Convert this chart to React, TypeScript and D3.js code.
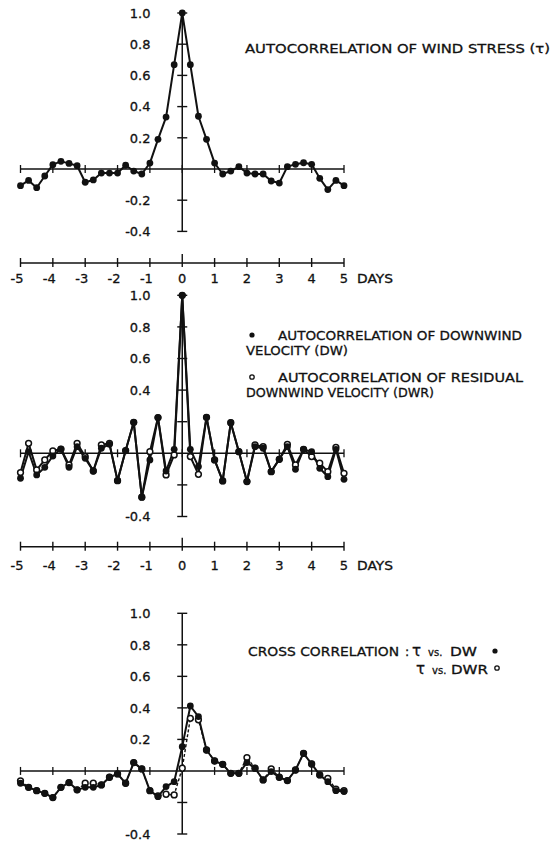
import React from "react";
import * as d3 from "d3";

const LAGS = [
  -5, -4.75, -4.5, -4.25, -4, -3.75, -3.5, -3.25, -3, -2.75, -2.5, -2.25, -2, -1.75, -1.5, -1.25, -1, -0.75, -0.5, -0.25,
  0, 0.25, 0.5, 0.75, 1, 1.25, 1.5, 1.75, 2, 2.25, 2.5, 2.75, 3, 3.25, 3.5, 3.75, 4, 4.25, 4.5, 4.75, 5,
];

const WIND_STRESS = [
  -0.107, -0.073, -0.12, -0.045, 0.028, 0.049, 0.036, 0.021, -0.085, -0.07, -0.026, -0.026, -0.026, 0.024, -0.013, -0.032,
  0.038, 0.19, 0.333, 0.669, 1.0, 0.669, 0.338, 0.19, 0.038, -0.032, -0.013, 0.015, -0.026, -0.032, -0.032, -0.077, -0.09,
  0.015, 0.03, 0.04, 0.03, -0.06, -0.132, -0.073, -0.107,
];

const DW_AUTO = [
  -0.158, 0.01, -0.137, -0.089, -0.017, 0.027, -0.089, 0.042, -0.032, -0.112, 0.032, 0.057, -0.173, 0.017, 0.196, -0.278,
  -0.042, 0.226, -0.112, 0.025, 1.0, 0.025, -0.084, 0.228, -0.042, -0.175, 0.194, 0.01, -0.179, 0.042, 0.032, -0.116,
  -0.038, 0.042, -0.101, 0.025, 0.01, -0.095, -0.148, 0.025, -0.165,
];

const DWR_AUTO = [
  -0.122, 0.063, -0.105, -0.042, 0.015, 0.027, -0.074, 0.063, -0.021, -0.112, 0.053, 0.063, -0.173, 0.017, 0.196, -0.278,
  0.01, 0.226, -0.137, -0.01, 1.0, -0.021, -0.133, 0.228, -0.042, -0.175, 0.194, 0.01, -0.179, 0.053, 0.042, -0.116,
  -0.038, 0.057, -0.074, 0.025, -0.021, -0.063, -0.116, 0.038, -0.127,
];

const CROSS_DW = [
  -0.078, -0.104, -0.125, -0.142, -0.169, -0.104, -0.074, -0.12, -0.104, -0.104, -0.089, -0.04, -0.019, -0.078, 0.053,
  0.013, -0.125, -0.163, -0.099, -0.068, 0.154, 0.412, 0.345, 0.133, 0.063, 0.042, -0.015, -0.015, 0.053, 0.017, -0.057,
  -0.004, -0.04, -0.061, 0.006, 0.112, 0.044, -0.025, -0.068, -0.125, -0.131,
];

const CROSS_DWR = [
  -0.063, -0.104, -0.125, -0.142, -0.169, -0.104, -0.074, -0.12, -0.078, -0.078, -0.089, -0.04, -0.019, -0.078, 0.053,
  0.013, -0.125, -0.158, -0.148, -0.152, 0.017, 0.334, 0.324, 0.133, 0.063, 0.042, -0.015, -0.015, 0.085, 0.017, -0.057,
  0.013, -0.04, -0.061, 0.006, 0.112, 0.044, -0.025, -0.047, -0.116, -0.125,
];

const DAY_TICKS = [-5, -4, -3, -2, -1, 0, 1, 2, 3, 4, 5];
const DAY_LABELS = ["-5", "-4", "-3", "-2", "-1", "0", "1", "2", "3", "4", "5"];
const Y_TICKS = [1.0, 0.8, 0.6, 0.4, 0.2, -0.2, -0.4];
const TOP_Y_LABELS = ["1.0", "0.8", "0.6", "0.4", "0.2", "-0.2", "-0.4"];
const MID_Y_LABELS = ["1.0", "0.8", "0.6", "0.4", "", "", "-0.4"];
const BOT_Y_LABELS = ["1.0", "0.8", "0.6", "0.4", "0.2", "", "-0.4"];

const FONT = "'DejaVu Sans', 'Liberation Sans', Arial, sans-serif";
const INK = "#111";

const x = d3.scaleLinear().domain([-5, 5]).range([20.5, 344]);

type Series = { values: number[]; filled: boolean; dashed?: boolean };

const txt = {
  fontFamily: FONT,
  fill: INK,
  stroke: INK,
  strokeWidth: 0.3,
} as const;

function Panel({
  top,
  bottom,
  labels,
  series,
}: {
  top: number;
  bottom: number;
  labels: string[];
  series: Series[];
}) {
  const y = d3.scaleLinear().domain([-0.4, 1.0]).range([bottom, top]);
  const x0 = x(0);
  const line = d3
    .line<number>()
    .x((_, i) => x(LAGS[i]))
    .y((d) => y(d));
  return (
    <g>
      <line x1={x(-5)} x2={x(5)} y1={y(0)} y2={y(0)} stroke={INK} strokeWidth={1.4} />
      {DAY_TICKS.map((t) => (
        <line key={t} x1={x(t)} x2={x(t)} y1={y(0) - 4} y2={y(0) + 4} stroke={INK} strokeWidth={1.3} />
      ))}
      <line x1={x0} x2={x0} y1={y(1.0)} y2={y(-0.4)} stroke={INK} strokeWidth={1.5} />
      {Y_TICKS.map((t, i) => (
        <g key={t}>
          <line x1={x0 - 5} x2={x0 + 5} y1={y(t)} y2={y(t)} stroke={INK} strokeWidth={1.4} />
          {labels[i] ? (
            <text x={150.5} y={y(t) + 4.8} textAnchor="end" fontSize={13} {...txt}>
              {labels[i]}
            </text>
          ) : null}
        </g>
      ))}
      {series.map((s, k) => (
        <path
          key={"l" + k}
          d={line(s.values) || ""}
          fill="none"
          stroke={INK}
          strokeWidth={s.dashed ? 1.4 : 2}
          strokeDasharray={s.dashed ? "3,2" : undefined}
          strokeLinejoin="round"
        />
      ))}
      {series
        .filter((s) => !s.filled)
        .map((s, k) =>
          s.values.map((v, i) => (
            <circle key={"o" + k + "-" + i} cx={x(LAGS[i])} cy={y(v)} r={2.9} fill="#fff" stroke={INK} strokeWidth={1.5} />
          ))
        )}
      {series
        .filter((s) => s.filled)
        .map((s, k) =>
          s.values.map((v, i) => <circle key={"f" + k + "-" + i} cx={x(LAGS[i])} cy={y(v)} r={3.4} fill={INK} />)
        )}
    </g>
  );
}

function DayAxis({ yPos, labelY }: { yPos: number; labelY: number }) {
  return (
    <g>
      <line x1={x(-5)} x2={x(5)} y1={yPos} y2={yPos} stroke={INK} strokeWidth={1.4} />
      {DAY_TICKS.map((t, i) => (
        <g key={t}>
          <line
            x1={x(t)}
            x2={x(t)}
            y1={yPos - (t === 0 ? 9 : 5)}
            y2={yPos + 4}
            stroke={INK}
            strokeWidth={1.4}
          />
          <text x={x(t) - (t < 0 ? 3.5 : 0)} y={labelY} textAnchor="middle" fontSize={13} {...txt}>
            {DAY_LABELS[i]}
          </text>
        </g>
      ))}
      <text x={357} y={labelY} fontSize={12} textLength={36} lengthAdjust="spacingAndGlyphs" {...txt}>
        DAYS
      </text>
    </g>
  );
}

export default function App() {
  return (
    <div style={{ position: "absolute", left: 0, top: 0, width: 553, height: 841, background: "#fff" }}>
      <svg width={553} height={841} viewBox="0 0 553 841" style={{ display: "block" }}>
        <rect width={553} height={841} fill="#fff" />

        {/* Top panel */}
        <Panel top={13} bottom={231.4} labels={TOP_Y_LABELS} series={[{ values: WIND_STRESS, filled: true }]} />
        <text x={245} y={53} fontSize={12.5} textLength={305} lengthAdjust="spacingAndGlyphs" {...txt}>
          AUTOCORRELATION OF WIND STRESS (τ)
        </text>
        <DayAxis yPos={263} labelY={283} />

        {/* Middle panel */}
        <Panel
          top={295.3}
          bottom={516.5}
          labels={MID_Y_LABELS}
          series={[
            { values: DWR_AUTO, filled: false },
            { values: DW_AUTO, filled: true },
          ]}
        />
        <circle cx={252} cy={335} r={2.6} fill={INK} />
        <text x={278} y={339.5} fontSize={12.5} textLength={244} lengthAdjust="spacingAndGlyphs" {...txt}>
          AUTOCORRELATION OF DOWNWIND
        </text>
        <text x={246} y={355} fontSize={12.5} textLength={102} lengthAdjust="spacingAndGlyphs" {...txt}>
          VELOCITY (DW)
        </text>
        <circle cx={252} cy={377} r={2.2} fill="#fff" stroke={INK} strokeWidth={1.3} />
        <text x={278} y={381.5} fontSize={12.5} textLength={245} lengthAdjust="spacingAndGlyphs" {...txt}>
          AUTOCORRELATION OF RESIDUAL
        </text>
        <text x={246} y={397} fontSize={12.5} textLength={188} lengthAdjust="spacingAndGlyphs" {...txt}>
          DOWNWIND VELOCITY (DWR)
        </text>
        <DayAxis yPos={546.7} labelY={570} />

        {/* Bottom panel */}
        <Panel
          top={613.3}
          bottom={834}
          labels={BOT_Y_LABELS}
          series={[
            { values: CROSS_DWR, filled: false, dashed: true },
            { values: CROSS_DW, filled: true },
          ]}
        />
        <text x={248} y={656} fontSize={12.5} textLength={151} lengthAdjust="spacingAndGlyphs" {...txt}>
          CROSS CORRELATION
        </text>
        <text x={405} y={656} fontSize={12.5} {...txt}>
          :
        </text>
        <text x={412} y={656} fontSize={15} {...txt}>
          τ
        </text>
        <text x={428} y={656} fontSize={10} {...txt}>
          vs.
        </text>
        <text x={450} y={656} fontSize={12.5} textLength={27} lengthAdjust="spacingAndGlyphs" {...txt}>
          DW
        </text>
        <circle cx={495} cy={651} r={2.6} fill={INK} />
        <text x={416} y={673.5} fontSize={15} {...txt}>
          τ
        </text>
        <text x={432} y={673.5} fontSize={10} {...txt}>
          vs.
        </text>
        <text x={451} y={673.5} fontSize={12.5} textLength={37} lengthAdjust="spacingAndGlyphs" {...txt}>
          DWR
        </text>
        <circle cx={497} cy={668} r={2.2} fill="#fff" stroke={INK} strokeWidth={1.3} />
      </svg>
    </div>
  );
}
